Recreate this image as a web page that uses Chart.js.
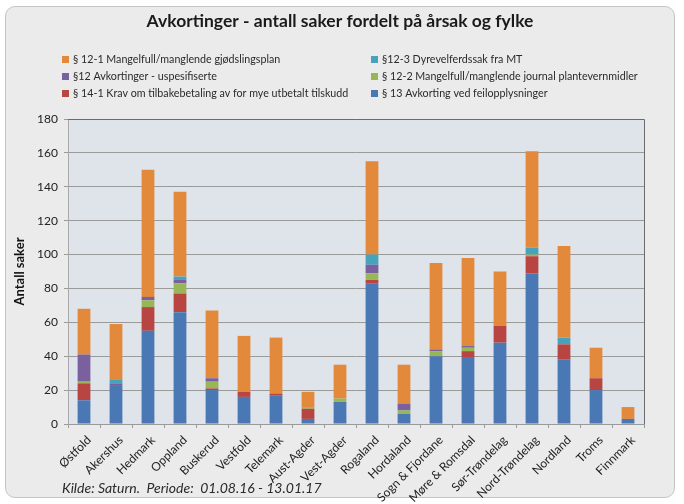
<!DOCTYPE html>
<html>
<head>
<meta charset="utf-8">
<script src="https://cdn.jsdelivr.net/npm/chart.js@4"></script>
<style>
  html, body { margin: 0; padding: 0; background: #fff; }
  #wrap { position: relative; width: 684px; height: 504px; }
  #panel {
    position: absolute; left: 5px; top: 6px; width: 668px; height: 490px;
    background: #ebebeb; border: 1px solid #c4c4c4; border-radius: 10px;
  }
  #chart { position: absolute; left: 0; top: 0; }
</style>
</head>
<body>
<div id="wrap">
  <div id="panel"></div>
  <canvas id="chart" width="684" height="504"></canvas>
</div>
<script>
// Fylker (x-akse)
const counties = ['Østfold', 'Akershus', 'Hedmark', 'Oppland', 'Buskerud', 'Vestfold', 'Telemark',
  'Aust-Agder', 'Vest-Agder', 'Rogaland', 'Hordaland', 'Sogn & Fjordane', 'Møre & Romsdal',
  'Sør-Trøndelag', 'Nord-Trøndelag', 'Nordland', 'Troms', 'Finnmark'];

// Series, bottom of stack first
const feilopplysninger = [14, 23, 55, 66, 20, 16, 17, 3, 13, 83, 6, 40, 39, 48, 89, 38, 20, 3];
const tilbakebetaling  = [10, 0, 14, 11, 1, 3, 1, 6, 0, 2, 0, 0, 4, 10, 10, 9, 7, 0];
const plantevern       = [1, 0, 4, 6, 4, 0, 0, 1, 2, 4, 2, 3, 2, 0, 1, 0, 0, 0];
const uspesifiserte    = [16, 1, 2, 2, 2, 0, 0, 0, 0, 5, 4, 1, 1, 0, 0, 0, 0, 0];
const dyrevelferd      = [0, 2, 0, 2, 0, 0, 0, 0, 0, 6, 0, 0, 0, 0, 4, 4, 0, 0];
const gjodsling        = [27, 33, 75, 50, 40, 33, 33, 9, 20, 55, 23, 51, 52, 32, 57, 54, 18, 7];

const yTicks = [0, 20, 40, 60, 80, 100, 120, 140, 160, 180];

const FONT = 'Lato, "Open Sans", sans-serif';

// Legend order as in the reference (row by row, two columns)
const legendOrder = [5, 4, 3, 2, 1, 0];

const panelPlugin = {
  id: 'panelDecor',
  beforeDraw(chart) {
    const { ctx, chartArea: a } = chart;
    ctx.save();
    ctx.fillStyle = '#dfe4ea';
    ctx.fillRect(a.left, a.top, a.right - a.left, a.bottom - a.top);
    ctx.restore();
  },
  afterDraw(chart) {
    const { ctx, chartArea: a } = chart;
    ctx.save();
    // top + right border of the plot
    ctx.strokeStyle = '#6b6b6b';
    ctx.lineWidth = 1;
    ctx.beginPath();
    ctx.moveTo(a.left, a.top + 0.5);
    ctx.lineTo(a.right + 0.5, a.top + 0.5);
    ctx.lineTo(a.right + 0.5, a.bottom);
    ctx.stroke();

    // title
    ctx.fillStyle = '#1a1a1a';
    ctx.font = 'bold 17.5px ' + FONT;
    ctx.textAlign = 'center';
    ctx.textBaseline = 'middle';
    ctx.fillText('Avkortinger - antall saker fordelt på årsak og fylke', 340, 21);

    // legend
    ctx.font = '10.7px ' + FONT;
    ctx.textAlign = 'left';
    const ds = chart.data.datasets;
    legendOrder.forEach((idx, i) => {
      const col = i % 2, row = Math.floor(i / 2);
      const x = col === 0 ? 62 : 371;
      const y = 60 + row * 17;
      ctx.fillStyle = ds[idx].backgroundColor;
      ctx.fillRect(x, y - 4, 7, 7);
      ctx.fillStyle = '#2a2a2a';
      ctx.fillText(ds[idx].label, x + 11, y);
    });

    // source line
    ctx.font = 'italic 14px ' + FONT;
    ctx.fillStyle = '#2a2a2a';
    ctx.fillText('Kilde: Saturn.  Periode:  01.08.16 - 13.01.17', 62, 488);
    ctx.restore();
  }
};

const mk = (label, data, color) => ({
  label, data, backgroundColor: color, borderWidth: 0,
  barPercentage: 0.4, categoryPercentage: 1.0
});

new Chart(document.getElementById('chart'), {
  type: 'bar',
  data: {
    labels: counties,
    datasets: [
      mk('§ 13 Avkorting ved feilopplysninger', feilopplysninger, '#4a78b4'),
      mk('§ 14-1 Krav om tilbakebetaling av for mye utbetalt tilskudd', tilbakebetaling, '#b84542'),
      mk('§ 12-2 Mangelfull/manglende journal plantevernmidler', plantevern, '#97b757'),
      mk('§12 Avkortinger - uspesifiserte', uspesifiserte, '#7a609e'),
      mk('§12-3 Dyrevelferdssak fra MT', dyrevelferd, '#47a2bc'),
      mk('§ 12-1 Mangelfull/manglende gjødslingsplan', gjodsling, '#e3893b')
    ]
  },
  options: {
    responsive: false,
    animation: false,
    layout: { padding: { top: 119, left: 0, right: 40, bottom: 0 } },
    plugins: {
      legend: { display: false },
      title: { display: false },
      tooltip: { enabled: false }
    },
    scales: {
      x: {
        stacked: true,
        offset: true,
        grid: {
          display: true, drawOnChartArea: false, drawTicks: true,
          offset: true, tickLength: 4, color: '#9a9a9a'
        },
        border: { color: '#9a9a9a' },
        ticks: {
          autoSkip: false, minRotation: 45, maxRotation: 45,
          color: '#222', font: { family: FONT, size: 12 }, padding: 5,
          labelOffset: 5
        },
        afterFit(scale) { scale.height = 80; }
      },
      y: {
        stacked: true,
        min: 0, max: 180,
        afterBuildTicks(scale) { scale.ticks = yTicks.map(v => ({ value: v })); },
        grid: { color: '#9a9a9a', tickLength: 4 },
        border: { color: '#a8a8a8' },
        ticks: {
          color: '#222', font: { family: FONT, size: 12 }, padding: 6
        },
        title: {
          display: true, text: 'Antall saker', color: '#111',
          font: { family: FONT, size: 13, weight: 'bold' },
          padding: { top: 12, bottom: 0 }
        },
        afterFit(scale) { scale.width = 68; }
      }
    }
  },
  plugins: [panelPlugin]
});
</script>
</body>
</html>
